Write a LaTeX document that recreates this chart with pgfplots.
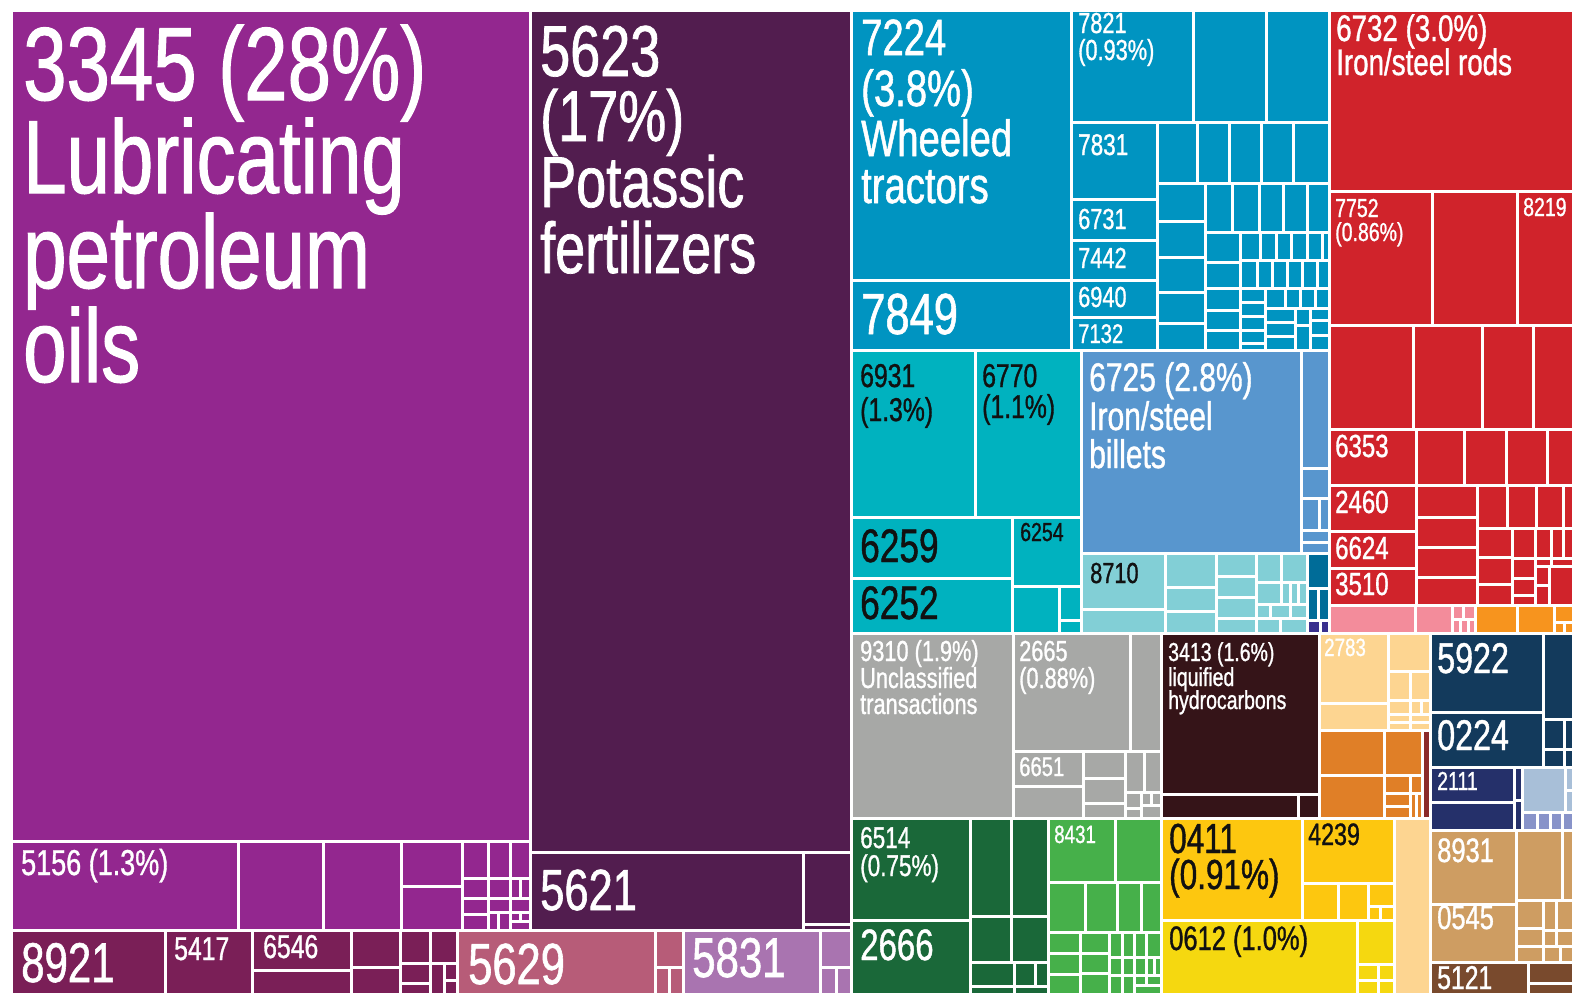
\documentclass[border=0pt]{standalone}
\usepackage{pgfplots}
\pgfplotsset{compat=1.18}
\usepackage{fontspec}
\setmainfont{Liberation Sans}[FakeStretch=0.75,FakeBold=1.0]
\definecolor{P1}{RGB}{147,39,143}
\definecolor{P2}{RGB}{122,31,87}
\definecolor{P3}{RGB}{183,92,120}
\definecolor{P4}{RGB}{169,116,176}
\definecolor{DP}{RGB}{82,29,79}
\definecolor{B}{RGB}{0,148,193}
\definecolor{T}{RGB}{0,178,191}
\definecolor{LB}{RGB}{88,150,206}
\definecolor{LT}{RGB}{130,207,214}
\definecolor{DT}{RGB}{0,108,152}
\definecolor{IN}{RGB}{57,47,142}
\definecolor{RD}{RGB}{208,35,43}
\definecolor{PK}{RGB}{243,140,155}
\definecolor{OR}{RGB}{247,148,30}
\definecolor{GR}{RGB}{167,168,166}
\definecolor{DB}{RGB}{53,20,24}
\definecolor{LO}{RGB}{253,213,145}
\definecolor{O2}{RGB}{224,127,39}
\definecolor{BR}{RGB}{139,42,42}
\definecolor{NV}{RGB}{19,58,92}
\definecolor{IN2}{RGB}{37,48,106}
\definecolor{SB}{RGB}{168,191,216}
\definecolor{LV}{RGB}{136,147,201}
\definecolor{TN}{RGB}{206,157,98}
\definecolor{BN}{RGB}{121,74,45}
\definecolor{DG}{RGB}{26,104,57}
\definecolor{GN}{RGB}{70,176,74}
\definecolor{YO}{RGB}{253,199,15}
\definecolor{YL}{RGB}{245,216,16}
\definecolor{BK}{RGB}{17,17,17}
\newcommand{\R}[5]{\addplot[fill=#5,draw=white,line width=3pt] coordinates {(#1,#2) (#3,#2) (#3,#4) (#1,#4)} --cycle;}
\newcommand{\T}[5]{\node[anchor=base west,inner sep=0pt,text=#4,font=\fontsize{#3}{#3}\selectfont] at (axis cs:#1,#2) {#5};}
\begin{document}
\begin{tikzpicture}
\begin{axis}[
  scale only axis, width=1573pt, height=994pt,
  xmin=0, xmax=1573, ymin=0, ymax=994, y dir=reverse,
  axis line style={draw=none}, xtick=\empty, ytick=\empty,
  axis background/.style={fill=white}, clip=true]
% purple
\R{11}{10}{530}{841}{P1}
\R{11}{841}{238}{930}{P1}
\R{238}{841}{323}{930}{P1}
\R{323}{841}{401}{930}{P1}
\R{401}{841}{462}{886}{P1}
\R{401}{886}{462}{930}{P1}
\R{462}{841}{488}{878}{P1}
\R{488}{841}{510}{878}{P1}
\R{510}{841}{530}{878}{P1}
\R{462}{878}{488}{898}{P1}
\R{462}{898}{488}{914}{P1}
\R{462}{914}{488}{930}{P1}
\R{488}{878}{510}{898}{P1}
\R{488}{898}{510}{912}{P1}
\R{488}{912}{498}{930}{P1}
\R{498}{912}{510}{930}{P1}
\R{510}{878}{520}{898}{P1}
\R{520}{878}{530}{898}{P1}
\R{510}{898}{530}{912}{P1}
\R{510}{912}{520}{921}{P1}
\R{520}{912}{530}{921}{P1}
\R{510}{921}{530}{930}{P1}
% bottom row
\R{11}{930}{165}{994}{P2}
\R{165}{930}{252}{994}{P2}
\R{252}{930}{351}{970}{P2}
\R{252}{970}{351}{994}{P2}
\R{351}{930}{400}{967}{P2}
\R{351}{967}{400}{994}{P2}
\R{400}{930}{430}{963}{P2}
\R{430}{930}{457}{963}{P2}
\R{400}{963}{430}{983}{P2}
\R{400}{983}{430}{994}{P2}
\R{430}{963}{444}{994}{P2}
\R{444}{963}{457}{980}{P2}
\R{444}{980}{457}{994}{P2}
\R{457}{930}{655}{994}{P3}
\R{655}{930}{683}{967}{P3}
\R{655}{967}{669}{994}{P3}
\R{669}{967}{683}{994}{P3}
\R{683}{930}{820}{994}{P4}
\R{820}{930}{851}{967}{P4}
\R{820}{967}{836}{994}{P4}
\R{836}{967}{851}{994}{P4}
% dark purple
\R{530}{10}{851}{852}{DP}
\R{530}{852}{803}{930}{DP}
\R{803}{852}{851}{924}{DP}
\R{803}{924}{851}{930}{DP}
% blue
\R{851}{10}{1071}{280}{B}
\R{851}{280}{1071}{350}{B}
\R{1071}{10}{1193}{122}{B}
\R{1193}{10}{1266}{122}{B}
\R{1266}{10}{1329}{122}{B}
\R{1071}{122}{1157}{199}{B}
\R{1071}{199}{1157}{240}{B}
\R{1071}{240}{1157}{280}{B}
\R{1071}{280}{1157}{317}{B}
\R{1071}{317}{1157}{350}{B}
\R{1157}{122}{1197}{183}{B}
\R{1197}{122}{1229}{183}{B}
\R{1229}{122}{1261}{183}{B}
\R{1261}{122}{1293}{183}{B}
\R{1293}{122}{1329}{183}{B}
\R{1157}{183}{1205}{221}{B}
\R{1157}{221}{1205}{257}{B}
\R{1157}{257}{1205}{292}{B}
\R{1157}{292}{1205}{323}{B}
\R{1157}{323}{1205}{350}{B}
\R{1205}{183}{1232}{232}{B}
\R{1232}{183}{1259}{232}{B}
\R{1259}{183}{1283}{232}{B}
\R{1283}{183}{1307}{232}{B}
\R{1307}{183}{1329}{232}{B}
\R{1205}{232}{1240}{262}{B}
\R{1205}{262}{1240}{288}{B}
\R{1205}{288}{1240}{310}{B}
\R{1205}{310}{1240}{330}{B}
\R{1205}{330}{1240}{350}{B}
\R{1240}{232}{1260}{260}{B}
\R{1260}{232}{1276}{260}{B}
\R{1276}{232}{1291}{260}{B}
\R{1291}{232}{1307}{260}{B}
\R{1307}{232}{1322}{260}{B}
\R{1322}{232}{1329}{260}{B}
\R{1240}{260}{1257}{288}{B}
\R{1257}{260}{1272}{288}{B}
\R{1272}{260}{1287}{288}{B}
\R{1287}{260}{1302}{288}{B}
\R{1302}{260}{1317}{288}{B}
\R{1317}{260}{1329}{288}{B}
\R{1240}{288}{1265}{302}{B}
\R{1240}{302}{1265}{316}{B}
\R{1240}{316}{1265}{330}{B}
\R{1240}{330}{1265}{343}{B}
\R{1240}{343}{1265}{350}{B}
\R{1265}{288}{1285}{308}{B}
\R{1285}{288}{1300}{308}{B}
\R{1300}{288}{1315}{308}{B}
\R{1315}{288}{1329}{308}{B}
\R{1265}{308}{1295}{322}{B}
\R{1265}{322}{1295}{336}{B}
\R{1265}{336}{1295}{350}{B}
\R{1295}{308}{1310}{325}{B}
\R{1295}{325}{1310}{350}{B}
\R{1310}{308}{1329}{320}{B}
\R{1310}{320}{1329}{335}{B}
\R{1310}{335}{1329}{350}{B}
% teal
\R{851}{350}{975}{517}{T}
\R{975}{350}{1081}{517}{T}
\R{851}{517}{1012}{578}{T}
\R{851}{578}{1012}{633}{T}
\R{1012}{517}{1081}{586}{T}
\R{1012}{586}{1059}{633}{T}
\R{1059}{586}{1081}{620}{T}
\R{1059}{620}{1081}{633}{T}
\R{1081}{350}{1301}{553}{LB}
\R{1301}{350}{1329}{468}{LB}
\R{1301}{468}{1329}{498}{LB}
\R{1301}{498}{1319}{530}{LB}
\R{1319}{498}{1329}{530}{LB}
\R{1301}{530}{1329}{542}{LB}
\R{1301}{542}{1329}{553}{LB}
\R{1081}{553}{1165}{609}{LT}
\R{1081}{609}{1165}{633}{LT}
\R{1165}{553}{1216}{587}{LT}
\R{1165}{587}{1216}{611}{LT}
\R{1165}{611}{1216}{633}{LT}
\R{1216}{553}{1256}{576}{LT}
\R{1216}{576}{1256}{597}{LT}
\R{1216}{597}{1256}{618}{LT}
\R{1216}{618}{1256}{633}{LT}
\R{1256}{553}{1281}{582}{LT}
\R{1281}{553}{1307}{582}{LT}
\R{1256}{582}{1281}{604}{LT}
\R{1281}{582}{1290}{604}{LT}
\R{1290}{582}{1298}{604}{LT}
\R{1298}{582}{1307}{604}{LT}
\R{1256}{604}{1270}{618}{LT}
\R{1270}{604}{1290}{618}{LT}
\R{1290}{604}{1307}{618}{LT}
\R{1256}{618}{1280}{633}{LT}
\R{1280}{618}{1307}{633}{LT}
\R{1307}{553}{1329}{588}{DT}
\R{1307}{588}{1318}{620}{DT}
\R{1318}{588}{1329}{620}{DT}
\R{1307}{620}{1320}{633}{IN}
\R{1320}{620}{1329}{633}{IN}
% red
\R{1329}{10}{1573}{191}{RD}
\R{1329}{191}{1432}{325}{RD}
\R{1432}{191}{1517}{325}{RD}
\R{1517}{191}{1573}{325}{RD}
\R{1329}{325}{1413}{429}{RD}
\R{1413}{325}{1482}{429}{RD}
\R{1482}{325}{1533}{429}{RD}
\R{1533}{325}{1573}{429}{RD}
\R{1329}{429}{1416}{485}{RD}
\R{1416}{429}{1464}{485}{RD}
\R{1464}{429}{1506}{485}{RD}
\R{1506}{429}{1547}{485}{RD}
\R{1547}{429}{1573}{485}{RD}
\R{1329}{485}{1416}{531}{RD}
\R{1329}{531}{1416}{568}{RD}
\R{1329}{568}{1416}{605}{RD}
\R{1416}{485}{1477}{517}{RD}
\R{1416}{517}{1477}{547}{RD}
\R{1416}{547}{1477}{577}{RD}
\R{1416}{577}{1477}{605}{RD}
\R{1477}{485}{1507}{528}{RD}
\R{1507}{485}{1536}{528}{RD}
\R{1536}{485}{1563}{528}{RD}
\R{1563}{485}{1573}{528}{RD}
\R{1477}{528}{1512}{557}{RD}
\R{1477}{557}{1512}{584}{RD}
\R{1477}{584}{1512}{605}{RD}
\R{1512}{528}{1535}{558}{RD}
\R{1512}{558}{1535}{578}{RD}
\R{1512}{578}{1535}{595}{RD}
\R{1512}{595}{1535}{605}{RD}
\R{1535}{528}{1551}{558}{RD}
\R{1551}{528}{1563}{558}{RD}
\R{1563}{528}{1573}{558}{RD}
\R{1535}{558}{1551}{566}{RD}
\R{1551}{558}{1573}{566}{RD}
\R{1535}{566}{1549}{585}{RD}
\R{1535}{585}{1549}{605}{RD}
\R{1549}{566}{1573}{605}{RD}
\R{1329}{605}{1415}{633}{PK}
\R{1415}{605}{1452}{633}{PK}
\R{1452}{605}{1463}{619}{PK}
\R{1463}{605}{1475}{619}{PK}
\R{1452}{619}{1460}{633}{PK}
\R{1460}{619}{1468}{633}{PK}
\R{1468}{619}{1475}{633}{PK}
\R{1475}{605}{1517}{633}{OR}
\R{1517}{605}{1554}{633}{OR}
\R{1554}{605}{1573}{622}{OR}
\R{1554}{622}{1564}{633}{OR}
\R{1564}{622}{1573}{633}{OR}
% grey
\R{851}{633}{1013}{818}{GR}
\R{1013}{633}{1130}{751}{GR}
\R{1130}{633}{1161}{751}{GR}
\R{1013}{751}{1083}{786}{GR}
\R{1013}{786}{1083}{818}{GR}
\R{1083}{751}{1125}{778}{GR}
\R{1083}{778}{1125}{803}{GR}
\R{1083}{803}{1125}{818}{GR}
\R{1125}{751}{1144}{792}{GR}
\R{1144}{751}{1161}{792}{GR}
\R{1125}{792}{1141}{808}{GR}
\R{1125}{808}{1141}{818}{GR}
\R{1141}{792}{1151}{805}{GR}
\R{1151}{792}{1161}{805}{GR}
\R{1141}{805}{1161}{818}{GR}
% dark brown
\R{1161}{633}{1319}{794}{DB}
\R{1161}{794}{1298}{818}{DB}
\R{1298}{794}{1319}{818}{DB}
% light orange / orange
\R{1319}{633}{1388}{703}{LO}
\R{1319}{703}{1388}{730}{LO}
\R{1388}{633}{1430}{671}{LO}
\R{1388}{671}{1410}{700}{LO}
\R{1410}{671}{1430}{700}{LO}
\R{1388}{700}{1410}{714}{LO}
\R{1410}{700}{1421}{714}{LO}
\R{1421}{700}{1430}{714}{LO}
\R{1388}{714}{1410}{722}{LO}
\R{1410}{714}{1430}{722}{LO}
\R{1388}{722}{1410}{730}{LO}
\R{1410}{722}{1430}{730}{LO}
\R{1319}{730}{1384}{775}{O2}
\R{1319}{775}{1384}{818}{O2}
\R{1384}{730}{1422}{775}{O2}
\R{1384}{775}{1410}{793}{O2}
\R{1410}{775}{1422}{793}{O2}
\R{1384}{793}{1410}{806}{O2}
\R{1384}{806}{1410}{818}{O2}
\R{1410}{793}{1416}{818}{O2}
\R{1416}{793}{1422}{818}{O2}
\R{1422}{730}{1430}{818}{BR}
% navy
\R{1430}{633}{1543}{712}{NV}
\R{1543}{633}{1573}{719}{NV}
\R{1430}{712}{1543}{767}{NV}
\R{1543}{719}{1564}{749}{NV}
\R{1564}{719}{1573}{749}{NV}
\R{1543}{749}{1564}{767}{NV}
\R{1564}{749}{1573}{767}{NV}
\R{1430}{767}{1514}{802}{IN2}
\R{1430}{802}{1514}{830}{IN2}
\R{1514}{767}{1522}{800}{IN2}
\R{1514}{800}{1522}{830}{IN2}
\R{1522}{767}{1565}{812}{SB}
\R{1565}{767}{1573}{790}{SB}
\R{1565}{790}{1573}{812}{SB}
\R{1522}{812}{1537}{830}{LV}
\R{1537}{812}{1550}{830}{LV}
\R{1550}{812}{1562}{830}{LV}
\R{1562}{812}{1573}{830}{LV}
% tan
\R{1430}{830}{1516}{904}{TN}
\R{1430}{904}{1516}{962}{TN}
\R{1516}{830}{1562}{900}{TN}
\R{1562}{830}{1573}{900}{TN}
\R{1516}{900}{1543}{928}{TN}
\R{1516}{928}{1543}{946}{TN}
\R{1516}{946}{1543}{962}{TN}
\R{1543}{900}{1556}{930}{TN}
\R{1556}{900}{1573}{930}{TN}
\R{1543}{930}{1556}{946}{TN}
\R{1556}{930}{1573}{946}{TN}
\R{1543}{946}{1560}{962}{TN}
\R{1560}{946}{1573}{962}{TN}
\R{1430}{962}{1528}{994}{BN}
\R{1528}{962}{1573}{983}{BN}
\R{1528}{983}{1573}{994}{BN}
% greens
\R{851}{818}{970}{920}{DG}
\R{851}{920}{970}{994}{DG}
\R{970}{818}{1011}{916}{DG}
\R{1011}{818}{1048}{916}{DG}
\R{970}{916}{1011}{962}{DG}
\R{1011}{916}{1048}{962}{DG}
\R{970}{962}{1014}{986}{DG}
\R{1014}{962}{1035}{986}{DG}
\R{1035}{962}{1048}{986}{DG}
\R{970}{986}{1014}{994}{DG}
\R{1014}{986}{1048}{994}{DG}
\R{1048}{818}{1115}{882}{GN}
\R{1115}{818}{1161}{882}{GN}
\R{1048}{882}{1085}{932}{GN}
\R{1085}{882}{1117}{932}{GN}
\R{1117}{882}{1141}{932}{GN}
\R{1141}{882}{1161}{932}{GN}
\R{1048}{932}{1080}{953}{GN}
\R{1048}{953}{1080}{974}{GN}
\R{1048}{974}{1080}{994}{GN}
\R{1080}{932}{1109}{953}{GN}
\R{1080}{953}{1109}{973}{GN}
\R{1080}{973}{1109}{994}{GN}
\R{1109}{932}{1122}{957}{GN}
\R{1122}{932}{1134}{957}{GN}
\R{1134}{932}{1146}{957}{GN}
\R{1146}{932}{1161}{957}{GN}
\R{1109}{957}{1122}{975}{GN}
\R{1122}{957}{1134}{975}{GN}
\R{1134}{957}{1146}{975}{GN}
\R{1146}{957}{1154}{975}{GN}
\R{1154}{957}{1161}{975}{GN}
\R{1109}{975}{1122}{994}{GN}
\R{1122}{975}{1134}{994}{GN}
\R{1134}{975}{1146}{985}{GN}
\R{1146}{975}{1161}{985}{GN}
\R{1134}{985}{1161}{994}{GN}
% yellows
\R{1161}{818}{1302}{920}{YO}
\R{1302}{818}{1394}{883}{YO}
\R{1302}{883}{1338}{920}{YO}
\R{1338}{883}{1368}{920}{YO}
\R{1368}{883}{1394}{906}{YO}
\R{1368}{906}{1380}{920}{YO}
\R{1380}{906}{1394}{920}{YO}
\R{1161}{920}{1357}{994}{YL}
\R{1357}{920}{1394}{964}{YL}
\R{1357}{964}{1378}{980}{YL}
\R{1378}{964}{1394}{980}{YL}
\R{1357}{980}{1378}{994}{YL}
\R{1378}{980}{1394}{994}{YL}
\R{1394}{818}{1430}{994}{LO}
% labels
\T{23}{100}{104}{white}{3345 (28\%)}
\T{23}{193}{104}{white}{Lubricating}
\T{23}{288}{104}{white}{petroleum}
\T{23}{382}{104}{white}{oils}
\T{540}{76}{72}{white}{5623}
\T{540}{141}{72}{white}{(17\%)}
\T{540}{207}{72}{white}{Potassic}
\T{540}{273}{72}{white}{fertilizers}
\T{861}{55}{51}{white}{7224}
\T{861}{106}{51}{white}{(3.8\%)}
\T{861}{156}{51}{white}{Wheeled}
\T{861}{203}{51}{white}{tractors}
\T{861}{334}{58}{white}{7849}
\T{1078}{33}{29}{white}{7821}
\T{1078}{60}{29}{white}{(0.93\%)}
\T{1078}{155}{30}{white}{7831}
\T{1078}{229}{29}{white}{6731}
\T{1078}{268}{29}{white}{7442}
\T{1078}{307}{29}{white}{6940}
\T{1078}{343}{27}{white}{7132}
\T{1336}{41}{37}{white}{6732 (3.0\%)}
\T{1336}{75}{37}{white}{Iron/steel rods}
\T{1335}{217}{26}{white}{7752}
\T{1335}{241}{26}{white}{(0.86\%)}
\T{1523}{216}{26}{white}{8219}
\T{1335}{457}{32}{white}{6353}
\T{1335}{513}{32}{white}{2460}
\T{1335}{559}{32}{white}{6624}
\T{1335}{595}{32}{white}{3510}
\T{860}{387}{33}{BK}{6931}
\T{860}{421}{33}{BK}{(1.3\%)}
\T{982}{387}{33}{BK}{6770}
\T{982}{418}{33}{BK}{(1.1\%)}
\T{1089}{391}{40}{white}{6725 (2.8\%)}
\T{1089}{430}{40}{white}{Iron/steel}
\T{1089}{468}{40}{white}{billets}
\T{860}{562}{47}{BK}{6259}
\T{860}{619}{47}{BK}{6252}
\T{1020}{541}{26}{BK}{6254}
\T{1090}{583}{29}{BK}{8710}
\T{860}{661}{29}{white}{9310 (1.9\%)}
\T{860}{688}{29}{white}{Unclassified}
\T{860}{714}{29}{white}{transactions}
\T{1019}{661}{29}{white}{2665}
\T{1019}{688}{29}{white}{(0.88\%)}
\T{1019}{776}{27}{white}{6651}
\T{1168}{661}{26}{white}{3413 (1.6\%)}
\T{1168}{686}{26}{white}{liquified}
\T{1168}{709}{26}{white}{hydrocarbons}
\T{1324}{656}{25}{white}{2783}
\T{1437}{673}{43}{white}{5922}
\T{1437}{750}{43}{white}{0224}
\T{1437}{790}{26}{white}{2111}
\T{1437}{862}{34}{white}{8931}
\T{1437}{929}{34}{white}{0545}
\T{1437}{989}{33}{white}{5121}
\T{860}{848}{30}{white}{6514}
\T{860}{876}{30}{white}{(0.75\%)}
\T{860}{960}{44}{white}{2666}
\T{1054}{843}{25}{white}{8431}
\T{1169}{853}{42}{BK}{0411}
\T{1169}{889}{42}{BK}{(0.91\%)}
\T{1308}{845}{31}{BK}{4239}
\T{1169}{950}{34}{BK}{0612 (1.0\%)}
\T{21}{875}{36}{white}{5156 (1.3\%)}
\T{21}{982}{56}{white}{8921}
\T{174}{960}{33}{white}{5417}
\T{263}{958}{33}{white}{6546}
\T{468}{984}{58}{white}{5629}
\T{692}{977}{56}{white}{5831}
\T{540}{910}{58}{white}{5621}
\end{axis}
\end{tikzpicture}
\end{document}
